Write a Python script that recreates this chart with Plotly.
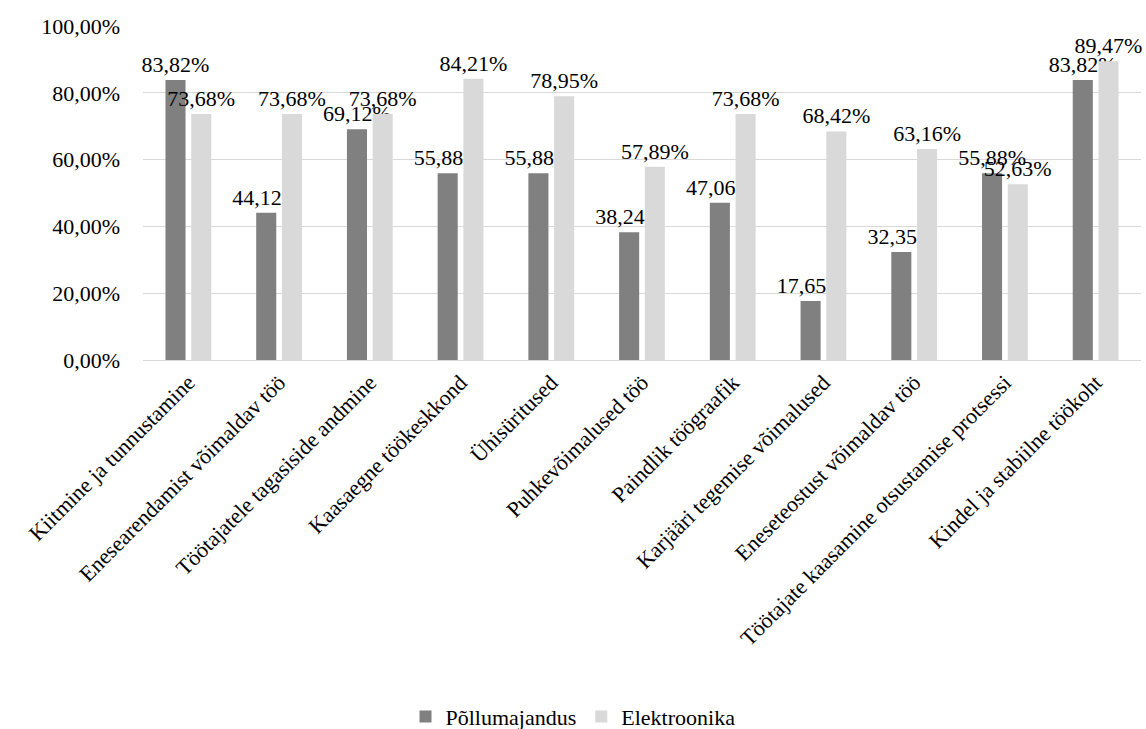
import plotly.graph_objects as go

categories = [
    "Kiitmine ja tunnustamine",
    "Enesearendamist võimaldav töö",
    "Töötajatele tagasiside andmine",
    "Kaasaegne töökeskkond",
    "Ühisüritused",
    "Puhkevõimalused töö",
    "Paindlik töögraafik",
    "Karjääri tegemise võimalused",
    "Eneseteostust võimaldav töö",
    "Töötajate kaasamine otsustamise protsessi",
    "Kindel ja stabiilne töökoht",
]
pollumajandus = [83.82, 44.12, 69.12, 55.88, 55.88, 38.24, 47.06, 17.65, 32.35, 55.88, 83.82]
elektroonika = [73.68, 73.68, 73.68, 84.21, 78.95, 57.89, 73.68, 68.42, 63.16, 52.63, 89.47]
y_ticks = [0, 20, 40, 60, 80, 100]

FONT = "Liberation Serif"
DARK = "#808080"
LIGHT = "#d9d9d9"


def fmt(v):
    return f"{v:.2f}".replace(".", ",") + "%"


def bar(values, name, color):
    # value label drawn above each bar
    return go.Bar(
        x=categories, y=values, name=name,
        marker=dict(color=color, line=dict(width=0)),
        text=[fmt(v) for v in values], textposition="outside",
        textangle=0, constraintext="none", cliponaxis=False,
        textfont=dict(family=FONT, size=22, color="black"),
    )


fig = go.Figure([bar(pollumajandus, "Põllumajandus", DARK),
                 bar(elektroonika, "Elektroonika", LIGHT)])

fig.update_layout(
    width=1146, height=729,
    margin=dict(l=143, r=5, t=26, b=369),
    paper_bgcolor="white", plot_bgcolor="white",
    barmode="group", bargap=0.433, bargroupgap=0.22,
    font=dict(family=FONT, size=22, color="black"),
    showlegend=True,
    legend=dict(orientation="h", xref="container", yref="container",
                x=0.5, xanchor="center", y=0.017, yanchor="middle",
                itemwidth=30, traceorder="normal"),
    xaxis=dict(tickangle=-45, showgrid=False, showline=True,
               linecolor="#d9d9d9", linewidth=1, ticks=""),
    yaxis=dict(range=[0, 100], tickmode="array", tickvals=y_ticks,
               ticktext=[fmt(t) for t in y_ticks],
               showgrid=True, gridcolor="#d9d9d9",
               gridwidth=1, zeroline=False, showline=False, ticks="",
               ticklabelstandoff=22),
)

fig.write_html("out.html")
